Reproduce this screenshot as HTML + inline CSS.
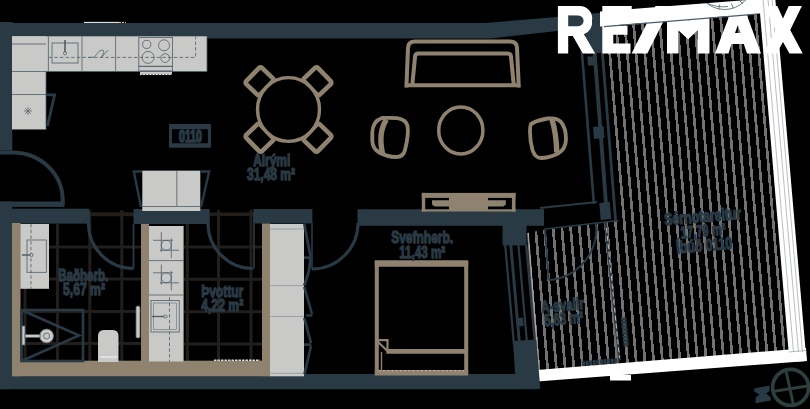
<!DOCTYPE html>
<html>
<head>
<meta charset="utf-8">
<title>Floor plan</title>
<style>
html,body{margin:0;padding:0;background:#000;overflow:hidden;}
body{width:810px;height:409px;font-family:"Liberation Sans",sans-serif;}
svg{display:block;position:absolute;left:0;top:0;}
text{font-family:"Liberation Sans",sans-serif;}
</style>
</head>
<body>
<svg width="810" height="409" viewBox="0 0 810 409">
<defs>
  <pattern id="deck" width="8.733" height="20" patternUnits="userSpaceOnUse" patternTransform="translate(638.9 0) rotate(-4.9)">
    <rect x="0" y="0" width="2.7" height="20" fill="#747474"/>
  </pattern>
  <pattern id="deck2" width="8.733" height="20" patternUnits="userSpaceOnUse" patternTransform="translate(637.4 0) rotate(-4.9)">
    <rect x="0" y="0" width="2.7" height="20" fill="#747474"/>
  </pattern>
</defs>
<rect width="810" height="409" fill="#000"/>

<!-- ============ TERRACE ============ -->
<g id="terrace">
  <clipPath id="cpMain"><polygon points="602.5,26 757,13 789,350 620,364 606.5,222 617.5,221"/></clipPath>
  <clipPath id="cpBal"><polygon points="527,233 545,229.5 605.8,222.5 620,364 537,371"/></clipPath>
  <g clip-path="url(#cpMain)"><path fill="#727272" shape-rendering="crispEdges" d="M569.64,10L572.35,10L603.03,368L600.33,368ZM578.41,10L581.11,10L611.79,368L609.09,368ZM587.17,10L589.88,10L620.56,368L617.86,368ZM595.94,10L598.64,10L629.32,368L626.62,368ZM604.70,10L607.40,10L638.09,368L635.39,368ZM613.47,10L616.17,10L646.85,368L644.15,368ZM622.24,10L624.94,10L655.62,368L652.92,368ZM631.00,10L633.70,10L664.38,368L661.68,368ZM639.76,10L642.47,10L673.15,368L670.45,368ZM648.53,10L651.23,10L681.91,368L679.21,368ZM657.29,10L660.00,10L690.68,368L687.98,368ZM666.06,10L668.76,10L699.44,368L696.74,368ZM674.83,10L677.53,10L708.21,368L705.51,368ZM683.59,10L686.29,10L716.97,368L714.27,368ZM692.36,10L695.06,10L725.74,368L723.04,368ZM701.12,10L703.82,10L734.50,368L731.80,368ZM709.88,10L712.59,10L743.27,368L740.57,368ZM718.65,10L721.35,10L752.03,368L749.33,368ZM727.41,10L730.12,10L760.80,368L758.10,368ZM736.18,10L738.88,10L769.56,368L766.86,368ZM744.94,10L747.64,10L778.33,368L775.63,368ZM753.71,10L756.41,10L787.09,368L784.39,368ZM762.48,10L765.18,10L795.86,368L793.16,368ZM771.24,10L773.94,10L804.62,368L801.92,368ZM780.00,10L782.71,10L813.39,368L810.69,368ZM788.77,10L791.47,10L822.15,368L819.45,368Z"/></g>
  <g clip-path="url(#cpBal)"><path fill="#727272" shape-rendering="crispEdges" d="M507.09,218L509.79,218L523.15,374L520.45,374ZM515.85,218L518.55,218L531.92,374L529.22,374ZM524.62,218L527.32,218L540.68,374L537.98,374ZM533.38,218L536.08,218L549.45,374L546.75,374ZM542.15,218L544.85,218L558.21,374L555.51,374ZM550.91,218L553.61,218L566.98,374L564.28,374ZM559.68,218L562.38,218L575.74,374L573.04,374ZM568.44,218L571.14,218L584.51,374L581.81,374ZM577.21,218L579.91,218L593.27,374L590.57,374ZM585.97,218L588.67,218L602.04,374L599.34,374ZM594.74,218L597.44,218L610.80,374L608.10,374ZM603.50,218L606.20,218L619.57,374L616.87,374ZM612.27,218L614.97,218L628.33,374L625.63,374ZM621.03,218L623.73,218L637.10,374L634.40,374Z"/></g>
  <!-- A-svalir outline (light) -->
  <path d="M605.4,223L619.5,360" stroke="#2a3a45" stroke-width="2.6" fill="none"/>
  <path d="M528.3,233L539,370" stroke="#b9aaa6" stroke-width="1" fill="none"/>
  <path d="M606.5,228L619.5,358" stroke="#c9b9b0" stroke-width="1" stroke-dasharray="5 3" fill="none"/>
  <path d="M582,363.5L619,360.5" stroke="#2a3a45" stroke-width="5" stroke-dasharray="3 0.6" fill="none"/><path d="M623.5,317.5L626.3,347" stroke="#2a3a45" stroke-width="5.5" stroke-dasharray="3 0.6" fill="none"/>
  <!-- white planters -->
  <polygon points="536.9,370.1 789.2,349.4 806,348 807,361 536.9,381.5" fill="#fff"/>
  <polygon points="758.8,-1 775.3,-1 806.5,361 789.5,362" fill="#fff"/>
  <rect x="610" y="375" width="21" height="5.5" fill="#fff"/>
  <g stroke="#9aa3a9" stroke-width="0.7" fill="none">
    <path d="M763,-1L793.5,352 M768,-1L798.5,352 M772,-1L802.5,352"/>
    <path d="M789,352L806,350.5"/>
  </g>
</g>

<!-- ============ TILE GRID ============ -->
<g id="tiles" stroke="#221e1b" stroke-width="3" fill="none">
  <path d="M25,224V361 M57.5,224V361 M89.8,210V361 M121.8,210V361"/>
  <path d="M88,214.2H134" stroke-width="3.9"/>
  <path d="M20,247H141 M20,279H141 M20,311.5H141 M20,343.5H141"/>
  <path d="M187.3,224V361 M218.5,210V361 M251,210V361"/>
  <path d="M209,214.2H255" stroke-width="3.4"/>
  <path d="M184,247H262 M184,279.3H262 M184,311.8H262 M184,344H262"/>
</g>

<!-- ============ WALLS ============ -->
<g id="walls" fill="#2a3a45">
  <!-- top wall -->
  <polygon points="0,22 12.5,22 12.5,23 485,23 557,16.9 600,13.1 600,26 557,31 491,38.5 0,38.5"/>
  <!-- left wall upper -->
  <rect x="0" y="22" width="12.3" height="128.5"/>
  <!-- left wall lower -->
  <rect x="0" y="201.7" width="12.2" height="187.5"/>
  <rect x="0" y="201.5" width="64.5" height="5.4"/>
  <rect x="0" y="208.7" width="89" height="14.9"/>
  <!-- bottom wall -->
  <rect x="0" y="374" width="538" height="15.2"/>
  <!-- mid walls -->
  <rect x="133.5" y="209" width="76" height="15"/>
  <rect x="253.6" y="209" width="58.8" height="14.5"/>
  <rect x="357.5" y="209.2" width="186.5" height="16.6"/>
  <rect x="502.5" y="223" width="24" height="22.4"/>
</g>

<path d="M84,22.4H119" stroke="#fff" stroke-width="1"/>
<path d="M119,22.4H126" stroke="#e0c890" stroke-width="1" stroke-dasharray="2 1"/>
<!-- ============ TAUPE LININGS ============ -->
<g id="taupe" fill="#8f8370">
  <rect x="12" y="223" width="8.5" height="153.2"/>
  <rect x="12" y="360.7" width="258" height="15.5"/>
  <rect x="141" y="224" width="8" height="137"/>
  <rect x="262" y="223.5" width="8.2" height="152.7"/>
</g>

<!-- ============ LIGHT GREY FIXTURES ============ -->
<g id="grey" fill="#c9c9c7">
  <!-- kitchen counter -->
  <rect x="12" y="36.3" width="195" height="35.2"/>
  <rect x="12" y="36.3" width="34" height="93.2"/>
  <!-- island / sofa table -->
  <rect x="142.3" y="171" width="58" height="40"/>
  <!-- bath vanity -->
  <rect x="20.3" y="224" width="28.7" height="64.8"/>
  <!-- utility cabinets -->
  <rect x="149" y="226" width="34.6" height="135.5"/>
  <!-- wardrobe -->
  <rect x="270" y="224" width="34" height="152.3"/>
  <!-- toilet -->
  <path d="M98,362V336Q98,330 104,330H112.5Q118.5,330 118.5,336V362Z"/>
  <!-- hob handle -->
  <rect x="140" y="71.5" width="32" height="3"/>
  <!-- towel rails -->
  <rect x="136" y="306" width="4" height="32" rx="1.5" stroke="#4b5a64" stroke-width="0.8"/>
</g>
<g id="fixlines" stroke="#4f5e68" stroke-width="0.8" fill="none">
  <!-- kitchen counter lines -->
  <path d="M48.4,36.5V71.5 M82,36.5V71.5 M115.6,36.5V71.5 M12,44H46 M12,71.5H46 M12,94.5H46 M46,71.5H207 M46,71.5V129.5 M12,129.5H46 M207,36.5V71.5"/>
  <rect x="52" y="43" width="26" height="20"/>
  <path d="M65,40V53" stroke-width="1.6"/>
  <circle cx="65" cy="53.3" r="1.6" fill="#c9c9c7"/>
  <path d="M48.4,57.4H195.6V36.5" stroke-dasharray="3.5 2.2"/>
  <path d="M88,57.4H92Q95,57.4 96.5,54.5Q99,50 102,50Q105,50 103,54L101.5,57.4 M101.5,57.4L108,50" />
  <rect x="138.8" y="37.4" width="33.8" height="28.9"/>
  <rect x="138.8" y="66.3" width="33.8" height="4.6"/>
  <circle cx="146.7" cy="44.4" r="4.1"/>
  <circle cx="164" cy="45.3" r="5.5"/>
  <circle cx="148.1" cy="57.4" r="6"/>
  <circle cx="165.2" cy="58.1" r="4.4"/>
  <path d="M140,74.6H172" stroke="#fff" stroke-dasharray="1.6 1.6" stroke-width="1"/>
  <!-- asterisk -->
  <path d="M28,107V115 M24,111H32 M25.2,108.2L30.8,113.8 M30.8,108.2L25.2,113.8" stroke-width="0.7"/>
  <!-- island lines -->
  <path d="M176.8,171V206.5 M142.3,206.5H200.3 M142.3,170.5H200.3"/>
  <!-- vanity -->
  <rect x="27" y="240" width="19.3" height="32.3"/>
  <path d="M31,224V288.8" stroke-dasharray="3.5 2.2"/>
  <path d="M22,255H33" stroke-width="1.5"/>
  <circle cx="31.5" cy="255" r="1.6" fill="#c9c9c7"/>
  <!-- utility -->
  <path d="M149,260.6H183.6 M149,295H183.6"/>
  <rect x="151" y="300.5" width="28.2" height="31.5"/>
  <rect x="153.5" y="303" width="23.2" height="26.5" stroke-width="0.5"/>
  <path d="M169.5,297V361.5" stroke-dasharray="3.5 2.2"/>
  <path d="M152,316.5H164" stroke-width="1.4"/>
  <circle cx="165.5" cy="316.5" r="1.6" fill="#c9c9c7"/>
  <!-- washing machine symbols -->
  <g id="wm1">
    <circle cx="166.3" cy="245.3" r="5"/>
    <path d="M161.3,232V252 M171.3,238.5V258 M153,240.3H173 M160,250.3H179"/>
  </g>
  <g transform="translate(0,32.5)">
    <circle cx="166.3" cy="245.3" r="5"/>
    <path d="M161.3,232V252 M171.3,238.5V258 M153,240.3H173 M160,250.3H179"/>
  </g>
  <!-- wardrobe -->
  <path d="M270.5,229H304 M270.5,285.6H304 M270.5,316.5H304 M270.5,373.3H304" stroke="#8c969c"/>
  <!-- toilet -->
  <path d="M99.5,357H117.5" stroke="#e6e6e6" stroke-width="1.5"/>
  <!-- thresholds -->
  <path d="M214,360.3H260" stroke="#dcdcdc" stroke-width="1.4" stroke-dasharray="2.5 1"/>
</g>
<!-- shower -->
<g id="shower" stroke="#2a3a45" fill="none" stroke-width="2.6">
  <rect x="21.5" y="310" width="61.5" height="51"/>
  <path d="M21.5,310L79,335.5L21.5,361"/>
</g>
<g id="showerfix" fill="#c9c9c7" stroke="#4f5e68" stroke-width="0.8">
  <circle cx="46.6" cy="336" r="7"/>
  <circle cx="46.6" cy="336" r="3" />
  <rect x="22" y="326" width="3" height="19"/>
  <rect x="25" y="334.5" width="15" height="3"/>
</g>

<!-- ============ DOORS ============ -->
<g id="doors" stroke="#2a3a45" fill="none" stroke-width="3.1">
  <path d="M0,152.5 H12.5 A50.2,47.5 0 0 1 62.7,200 V204" stroke-width="4"/>
  <path d="M88.5,212 V223 A45,45 0 0 0 133.5,268.5" />
  <path d="M133.5,224 V268.5" stroke-width="1.8"/>
  <path d="M208,212 V223 A45,45 0 0 0 253,268.5"/>
  <path d="M254,212 V268.5" stroke-width="1.6"/>
  <path d="M358,223 A46,46 0 0 1 312,269"/>
  <path d="M312,223 V269" stroke-width="1.6"/>
</g>

<!-- ============ FURNITURE (taupe outlines) ============ -->
<g id="furn" stroke="#8f8370" fill="none" stroke-width="3">
  <!-- chairs -->
  <g id="chairs" stroke-width="4.6">
    <rect x="-11.3" y="-9.6" width="22.6" height="19.2" rx="2" transform="translate(259.6,81.2) rotate(-46)"/>
    <rect x="-11.3" y="-9.6" width="22.6" height="19.2" rx="2" transform="translate(317.4,81.2) rotate(46)"/>
    <rect x="-11.3" y="-9.6" width="22.6" height="19.2" rx="2" transform="translate(259.6,137.8) rotate(46)"/>
    <rect x="-11.3" y="-9.6" width="22.6" height="19.2" rx="2" transform="translate(317.4,137.8) rotate(-46)"/>
  </g>
  <ellipse cx="288.5" cy="109.5" rx="31" ry="31.9" fill="#000" stroke-width="3.4"/>
  <!-- sofa -->
  <g stroke-width="4" stroke-linejoin="round">
    <path d="M406.4,87.5 L408,48 Q408,41.5 415,41.5 H510 Q517,41.5 517,48 L518.8,87.5"/>
    <path d="M405,85.2 H520"/>
    <path d="M412.3,85 L415,57 Q415,53.5 418.5,53.5 H507.5 Q511,53.5 511,57 L513.8,85"/>
  </g>
  <!-- armchairs -->
  <path stroke-width="3.8" d="M382,118 Q389,117.5 397,118.2 Q406,119.5 407.5,126 Q409,134 405,150 Q403.5,157 396,157 Q388,157 380,153 Q372.5,149 372.3,141 L372.3,132 Q373,121 382,118Z"/>
  <path d="M386.5,119.5 Q377.9,132.1 382.5,153.5" stroke-width="5.4"/>
  <path stroke-width="3.8" d="M531,124 Q538,120 547.5,118.5 Q557,117.5 561,122 Q566,128 566,139 Q566,149 558,153.5 Q549,158 541,158 Q535,158 532.5,150 Q530,141 530,132 Q530,126 531,124Z"/>
  <path d="M552,119.5 Q556.2,132.9 556.8,152.5" stroke-width="5.4"/>
  <!-- coffee table -->
  <ellipse cx="460.8" cy="130.4" rx="22.1" ry="23.5" stroke-width="3.5"/>
  <!-- bed -->
  <path d="M376.8,261V374 M466.2,261V374" stroke-width="4"/>
  <path d="M374.8,263.5H468.2" stroke-width="6.4"/>
  <path d="M374.8,372.8H468.2" stroke-width="5.6"/>
  <path d="M386.4,351.3H466" stroke-width="4.8"/>
  <path d="M376,340.2H387.5V350 M377,341L387.5,351" stroke-width="2.2"/>
  <path d="M381.5,352V371" stroke-width="1.4"/>
  <path d="M379,370.6H464" stroke="#d8c9a8" stroke-width="1" stroke-dasharray="1.6 2.6"/>
  <!-- TV -->

</g>
<g fill="#8f8370">
  <rect x="421.8" y="192.9" width="93.7" height="5"/>
  <rect x="421.8" y="192.9" width="3.4" height="18.6"/>
  <rect x="511.9" y="192.9" width="3.6" height="18.6"/>
  <rect x="421.8" y="209.4" width="93.7" height="2.1"/>
  <rect x="449" y="193" width="39" height="17"/>
  <polygon points="432,200.2 449,200.2 449,206.5 434.5,206.5 432,204.5"/>
  <polygon points="488,200.2 505.8,200.2 505.8,204.5 503.3,206.5 488,206.5"/>
</g>

<!-- ============ MISC SLATE LINES ============ -->
<g id="misc" stroke="#2a3a45" fill="none" stroke-width="2.4">
  <!-- cupboard door by kitchen -->
  <path d="M46,94.8H54.6L47.5,126" stroke-width="2.8"/>
  <!-- island flaps -->
  <path d="M142,171.5H133.8L141,207 M200.5,171.5H209.2L201,207"/>
  <!-- wardrobe doors -->
  <g stroke-width="2.7">
    <path d="M304.3,224L310.5,256.5 M304,257.6H311 M310.5,258.5L309,271L304.3,285.5"/>
    <path d="M304.3,287L312,314 M306,315.5H312.4 M304.3,318L311,343 M304,344.6H311.3 M311,346L304.5,374"/>
  </g>
  <!-- label box -->
  <path d="M170.5,126.6H209.4V145.5H170.5Z" stroke-width="3"/>
  <path d="M169,126.6H210.8" stroke-width="5.2"/>
  <path d="M169,145.5H210.8" stroke-width="4.4"/>
</g>

<!-- ============ LABELS ============ -->
<g id="labels" fill="#2a3a45" stroke="#2a3a45" stroke-width="1.3" stroke-linejoin="round" font-weight="bold" font-size="17" text-anchor="middle">
  <text x="190.5" y="142.2" textLength="23" lengthAdjust="spacingAndGlyphs" font-size="16" stroke-width="1.7">0110</text>
  <text x="271.7" y="166" textLength="37" lengthAdjust="spacingAndGlyphs">Alrými</text>
  <text x="271" y="180.3" textLength="48" lengthAdjust="spacingAndGlyphs">31,48 m²</text>
  <text x="422.2" y="243.4" textLength="62" lengthAdjust="spacingAndGlyphs">Svefnherb.</text>
  <text x="422.2" y="257.6" textLength="46" lengthAdjust="spacingAndGlyphs">11,43 m²</text>
  <text x="83.2" y="281" textLength="50" lengthAdjust="spacingAndGlyphs">Baðherb.</text>
  <text x="84" y="295.3" textLength="42" lengthAdjust="spacingAndGlyphs">5,67 m²</text>
  <text x="222.2" y="296.8" textLength="42" lengthAdjust="spacingAndGlyphs">Þvottur</text>
  <text x="222.2" y="311" textLength="42" lengthAdjust="spacingAndGlyphs">4,22 m²</text>
  <g transform="rotate(-4.9 563 312)">
    <text x="563" y="311" textLength="43" lengthAdjust="spacingAndGlyphs">A-svalir</text>
    <text x="563" y="324.6" textLength="39" lengthAdjust="spacingAndGlyphs">5,63 m²</text>
  </g>
  <g transform="rotate(-4.9 704 231)">
    <text x="704" y="222" textLength="77" lengthAdjust="spacingAndGlyphs">Sérnotareitur</text>
    <text x="703" y="236.5" textLength="45" lengthAdjust="spacingAndGlyphs">17,79 m²</text>
    <text x="703" y="251" textLength="56" lengthAdjust="spacingAndGlyphs">Íbúð 0110</text>
  </g>
</g>

<!-- ============ GLAZING / TERRACE DOOR ============ -->
<g id="glazing" stroke="#2a3a45" fill="none">
  <!-- upper (living room to terrace) -->
  <path d="M580.2,30L593.9,204" stroke-width="2.6"/>
  <path d="M592.8,28L606,204" stroke-width="3.8"/>
  <path d="M600.3,26L615.6,221" stroke-width="2.8"/>
  <path d="M540,208L597,202" stroke-width="2"/>
  <path d="M545,229L618.6,220.5" stroke-width="1.6"/>
  <!-- lower (bedroom to balcony) -->
  <path d="M505.2,245L514,345" stroke-width="2.2"/><path d="M510.8,245L519.6,345" stroke-width="2.9"/><path d="M518.4,245L527.2,345" stroke-width="2.2"/><path d="M526.3,245L535.1,345" stroke-width="2.4"/>
  <!-- balcony door -->
  <path d="M545,229L548.6,280" stroke-width="2"/>
  <path d="M548.6,280A51.2,51.2 0 0 0 596,223.5" stroke-width="2"/>
</g>
<g id="glazingblocks" fill="#2a3a45">
  <polygon points="583.5,14.5 602,13 604.5,52.5 587,54"/>
  <polygon points="587.3,56.6 596,56.6 596.7,65.4 588,65.4"/>
  <polygon points="593,127 603.5,126 604.5,138 594,139"/>
  <polygon points="599.3,203 609.8,202 611.2,219 600.7,220"/>
  <polygon points="518,318 523,317.6 523.7,326 518.7,326.4"/>
  <polygon points="513,341 536.3,339.5 540.3,388.8 516,388.8"/>
</g>

<!-- ============ COMPASS ============ -->
<g id="compass" stroke="#2e3e3e" fill="none" stroke-width="3.7">
  <circle cx="790.6" cy="387.4" r="18"/>
  <path d="M786,371L793.5,405 M772.5,391.5L809,385.7" stroke-width="3"/>
  <polygon points="754.2,388.5 769.5,385.5 769.5,391 766,393.5 770.8,397.3 770.8,400.5 755.6,403.2 755.6,397.5 759.5,394.6 754.2,391.5" fill="#2a3a45" stroke="none"/>
</g>

<!-- ============ LOGO ============ -->
<g id="logo" fill="#fff">
  <polygon points="600,11.5 760,-1 760,13.5 600,26.5"/>
  <!-- R -->
  <path fill-rule="evenodd" d="M557.9,53.6V5.9H579.5A12.5,12.5 0 0 1 592,20.5A12.5,12.5 0 0 1 584,34.2L595.2,53.6H582.8L572.8,36H568.2V53.6Z M568.2,15.4H578.2A5.4,5.4 0 0 1 578.2,26.2H568.2Z"/>
  <!-- E -->
  <path d="M602.3,5.9H631.7V16H613.3V25.8H627.5V34.7H613.3V43.5H630.5V53.6H602.3Z"/>
  <!-- slash -->
  <polygon points="631.6,53.6 647.3,53.6 671.2,5.9 655.5,5.9"/>
  <!-- M -->
  <polygon points="667,53.6 667,5.9 678.5,5.9 688.2,20.5 698,5.9 709.5,5.9 709.5,53.6 697.6,53.6 697.6,30.2 688.2,39.3 678.2,30.2 678.2,53.6"/>
  <!-- A -->
  <path fill-rule="evenodd" d="M715,53.6L733,5.9H743.5L761,53.6H747L743.8,44H731.5L728.5,53.6Z M737.9,25L735,32.9H740.6Z"/>
  <!-- X -->
  <polygon points="764.1,5.9 777.3,5.9 783,18.5 788.7,5.9 801.9,5.9 790.2,30 802.7,53.6 789.5,53.6 783,42 776.5,53.6 763.3,53.6 775.8,30"/>
</g>
<path d="M604,26.6L757,14.1" stroke="#4e5d68" stroke-width="1.1" fill="none"/>
<clipPath id="bandclip"><polygon points="600,11.5 760,-1 760,13.5 600,26.5"/></clipPath>
<g id="planter" stroke="#5f6e78" stroke-width="0.9" fill="none" clip-path="url(#bandclip)">
  <circle cx="724.5" cy="-19" r="28.5"/>
  <path d="M706,2.5Q716,8 728,6.5 M719.5,4.5L718.8,9.3 M731.5,3.5L733.2,8.2 M740,1L743,4"/>
</g>

</svg>
</body>
</html>
